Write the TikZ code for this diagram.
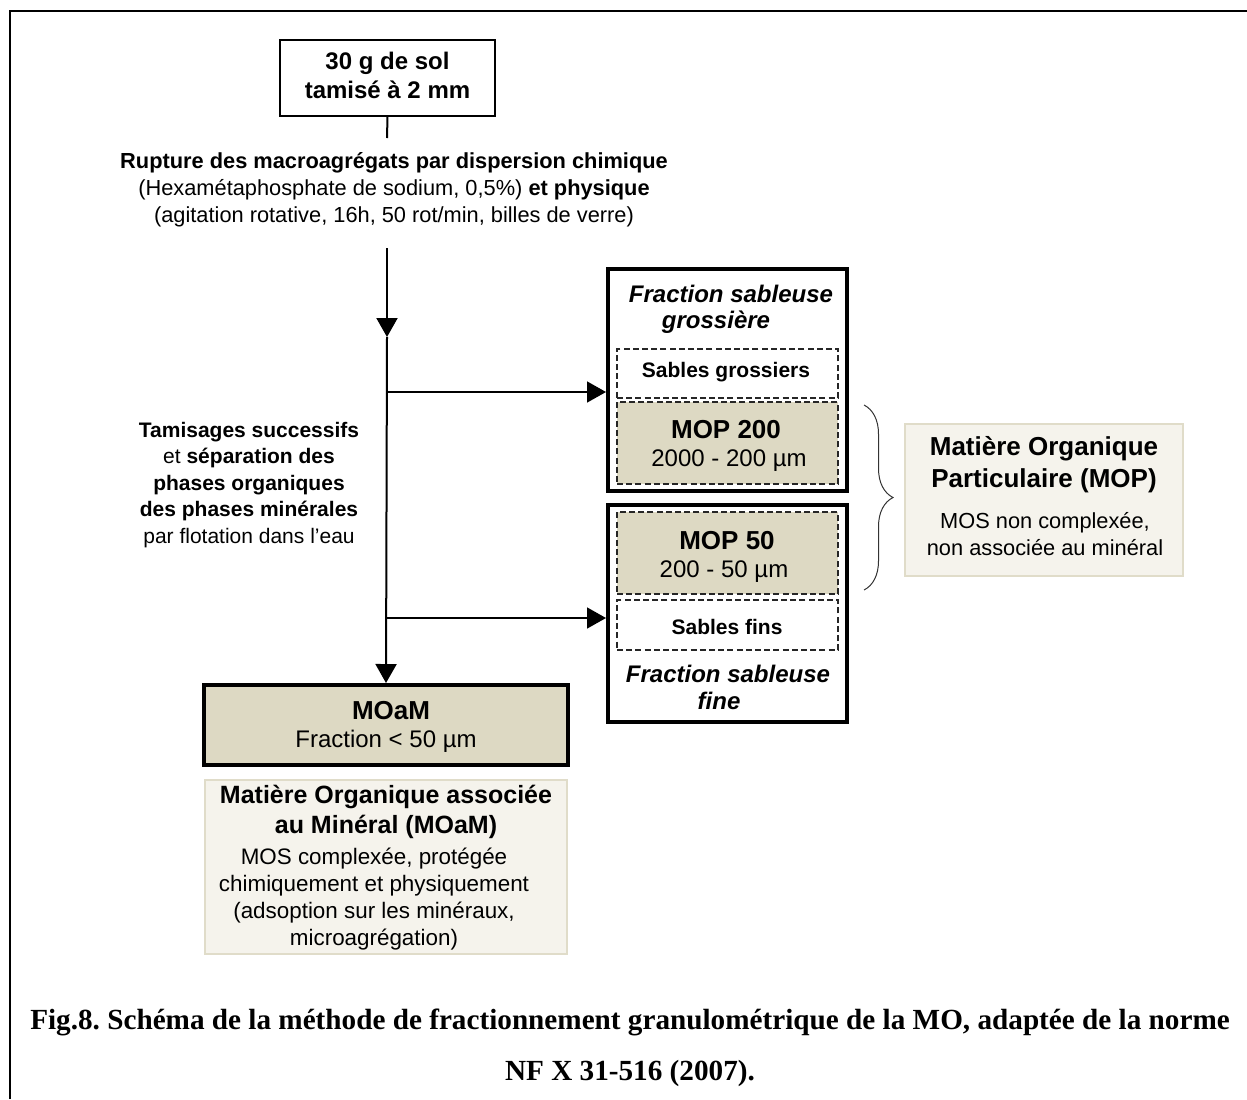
\documentclass[tikz,border=0pt]{standalone}
\usepackage{fontspec}
\setmainfont{Liberation Sans}
\newfontfamily\capfont{Liberation Serif}
\usetikzlibrary{arrows.meta,decorations.pathreplacing}
\definecolor{tanfill}{HTML}{DDD9C3}
\definecolor{palefill}{HTML}{F5F3EC}
\definecolor{paleedge}{HTML}{E0DCC9}
\frenchspacing
\begin{document}
\begin{tikzpicture}[x=0.5pt,y=-0.5pt,
  txt/.style={inner sep=0, align=center},
  tip/.style={-{Triangle[length=9.5pt,width=10.5pt]}},
  flow/.style={line width=1pt},
  branch/.style={line width=0.75pt},
  solbox/.style={draw, line width=0.75pt, minimum width=107.5pt, minimum height=38pt, inner sep=0},
  fracbox/.style={draw, line width=2pt, minimum width=119.5pt, inner sep=0},
  dbox/.style={draw=black!85, dash pattern=on 3pt off 1.6pt, line width=0.7pt, minimum width=110.5pt, inner sep=0},
  mopbox/.style={dbox, fill=tanfill, minimum height=41pt},
  palebox/.style={draw=paleedge, fill=palefill, line width=0.7pt, inner sep=0},
  small/.style={font=\fontsize{10.9}{13.5}\selectfont},
  smallb/.style={font=\bfseries\fontsize{10.5}{13.25}\selectfont},
  head/.style={font=\bfseries\fontsize{13}{16}\selectfont},
  sub/.style={font=\fontsize{12}{14}\selectfont},
  fracname/.style={font=\bfseries\itshape\fontsize{12}{14}\selectfont},
  captxt/.style={txt, font=\capfont\bfseries\fontsize{14.6}{17}\selectfont},
]
\useasboundingbox (0,0) rectangle (1247,1099);

% page frame
\draw[line width=1pt] (10,1099) -- (10,11) -- (1247,11);

% starting sample
\node[solbox] (sol) at (387.5,78) {};
\node[txt, font=\bfseries\fontsize{12}{14.5}\selectfont] (soltxt) at (387.5,75) {30 g de sol\\tamisé à 2 mm};
\coordinate (stub) at (387,138);
\draw[flow] (sol.south) -- (stub);

% dispersion step
\node[txt, small] (rupt) at (394,190)
  {\textbf{Rupture des macroagrégats par dispersion chimique}\\
   (Hexamétaphosphate de sodium, 0,5\%) \textbf{et physique}\\
   (agitation rotative, 16h, 50 rot/min, billes de verre)};

% sieving step
\node[txt, smallb] (tam) at (249,485)
  {Tamisages successifs\\
   {\mdseries et} séparation des\\
   phases organiques\\
   des phases minérales\\
   {\mdseries par flotation dans l\char39 eau}};

% coarse sand fraction
\node[fracbox, minimum height=111pt] (gross) at (727.5,380) {};
\node[txt, fracname] (grossA) at (731,294) {Fraction sableuse};
\node[txt, fracname] (grossB) at (716,322) {grossière};
\node[dbox, minimum height=24.5pt] (sg) at (727.5,373.5) {};
\node[txt, smallb] (sgtxt) at (726,372) {Sables grossiers};
\node[mopbox] (mop200) at (727.5,443) {};
\node[txt, head] (mop200a) at (726,430) {MOP 200};
\node[txt, sub] (mop200b) at (729,461) {2000 - 200 µm};

% fine sand fraction
\node[fracbox, minimum height=108.5pt] (fine) at (727.5,613.5) {};
\node[mopbox] (mop50) at (727.5,553) {};
\node[txt, head] (mop50a) at (727,541) {MOP 50};
\node[txt, sub] (mop50b) at (724,572) {200 - 50 µm};
\node[dbox, minimum height=25pt] (sf) at (727.5,625) {};
\node[txt, smallb] (sftxt) at (727,627) {Sables fins};
\node[txt, fracname] (fineA) at (728,674) {Fraction sableuse};
\node[txt, fracname] (fineB) at (719,701) {fine};

% mineral-associated fraction
\node[draw, line width=2pt, fill=tanfill, minimum width=182pt, minimum height=40pt, inner sep=0] (moam) at (386,725) {};
\node[txt, head] (moama) at (391,711) {MOaM};
\node[txt, sub] (moamb) at (386,741) {Fraction < 50 µm};

% main flow
\coordinate (v0) at (387,248);
\coordinate (vmid) at (387,337);
\coordinate (b1) at (387,392);
\coordinate (b2) at (387,618);
\draw[flow, tip] (v0) -- (vmid);
\draw[flow, tip] (vmid) -- (moam.north);
\draw[branch, tip] (b1) -- (gross.west |- b1);
\draw[branch, tip] (b2) -- (fine.west |- b2);

% particulate organic matter
\draw[decorate, decoration={brace, amplitude=14.5pt}, line width=0.5pt, black!80] (864,405) -- (864,590);
\node[palebox, minimum width=139pt, minimum height=76pt] (mop) at (1044,500) {};
\node[txt, head] (mopa) at (1044,465) {Matière Organique\\Particulaire (MOP)};
\node[txt, small] (mopb) at (1045,534) {MOS non complexée,\\non associée au minéral};

% mineral-associated organic matter
\node[palebox, minimum width=181pt, minimum height=87pt] (moamd) at (386,867) {};
\node[txt, font=\bfseries\fontsize{12.5}{15}\selectfont] (moamda) at (386,812) {Matière Organique associée\\au Minéral (MOaM)};
\node[txt, font=\fontsize{11.2}{13.6}\selectfont] (moamdb) at (374,899)
  {MOS complexée, protégée\\chimiquement et physiquement\\(adsoption sur les minéraux,\\microagrégation)};

% caption
\node[captxt] (cap1) at (630,1022)
  {Fig.8. Schéma de la méthode de fractionnement granulométrique de la MO, adaptée de la norme};
\node[captxt] (cap2) at (630,1073)
  {NF X 31-516 (2007).};
\end{tikzpicture}
\end{document}
